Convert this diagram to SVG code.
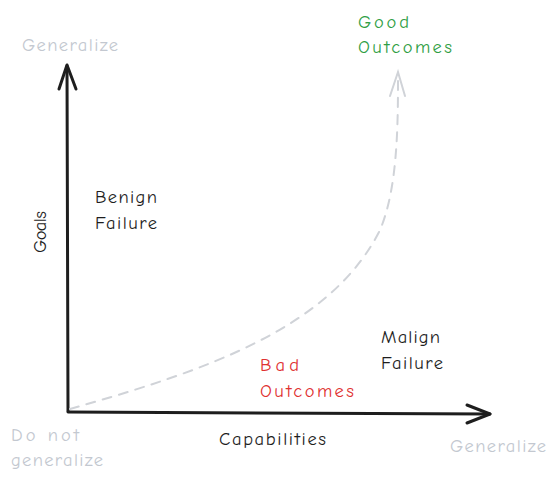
<svg xmlns="http://www.w3.org/2000/svg" width="558" height="482" viewBox="0 0 558 482">
<style>
text{font-family:"Comic Neue","Open Sans","Liberation Sans",sans-serif;font-size:18.5px}
.k{fill:#1e1e1e}.g{fill:#c3c8d0}.gr{fill:#2f9e44}.r{fill:#e03131}
.ax{stroke:#1e1e1e;stroke-width:3;fill:none;stroke-linecap:round;stroke-linejoin:round}
.dash{stroke:#d0d3d8;stroke-width:2;fill:none;stroke-dasharray:9 8;stroke-linecap:round}
.dh{stroke:#d0d3d8;stroke-width:2;fill:none;stroke-linecap:round}
</style>
<rect width="558" height="482" fill="#fff"/>
<g id="connectors">
<path class="ax" d="M68,411 L67,66"/>
<path class="ax" d="M59,89 L67,65 L76,89"/>
<path class="ax" d="M68,412 L490,414"/>
<path class="ax" d="M467,405 L490,414 L467,423"/>
<path class="dash" d="M70,409 C200,372 330,330 380,230 C397,190 398,130 398,80"/>
<path class="dh" d="M390,96 L398,72 L405,96"/>
</g>
<g id="gen-top"><text class="g" x="22" y="51" textLength="96">Generalize</text></g>
<g id="good"><text class="gr" x="358" y="28" textLength="51">Good</text><text class="gr" x="358" y="53" textLength="94">Outcomes</text></g>
<g id="benign"><text class="k" x="95" y="203" textLength="62">Benign</text><text class="k" x="95" y="229" textLength="62">Failure</text></g>
<g id="goals"><text class="k" transform="translate(46,232) rotate(-90)" text-anchor="middle" textLength="42">Goals</text></g>
<g id="malign"><text class="k" x="381" y="343" textLength="59">Malign</text><text class="k" x="381" y="369" textLength="62">Failure</text></g>
<g id="bad"><text class="r" x="260" y="371" textLength="39">Bad</text><text class="r" x="260" y="397" textLength="94">Outcomes</text></g>
<g id="cap"><text class="k" x="219" y="445" textLength="107">Capabilities</text></g>
<g id="dng"><text class="g" x="11" y="441" textLength="68">Do not</text><text class="g" x="11" y="466" textLength="92">generalize</text></g>
<g id="gen-right"><text class="g" x="450" y="452" textLength="96">Generalize</text></g>
</svg>
